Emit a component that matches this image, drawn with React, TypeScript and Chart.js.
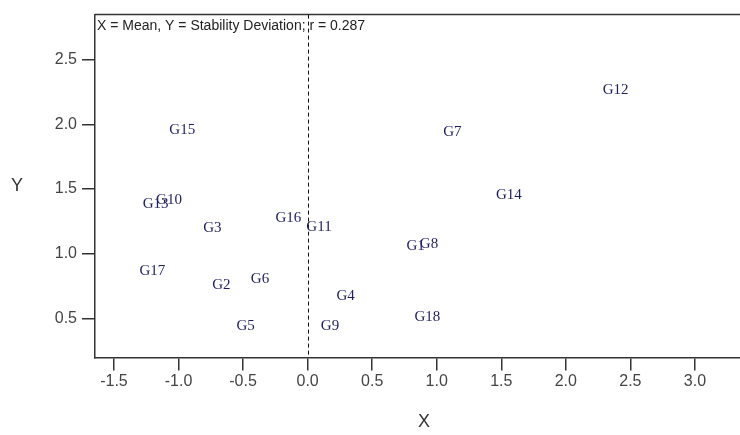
import React, { useEffect, useRef } from "react";
import { Chart, registerables } from "chart.js";

Chart.register(...registerables);

const names = ["G1","G2","G3","G4","G5","G6","G7","G8","G9","G10","G11","G12","G13","G14","G15","G16","G17","G18"];
const meanX = [0.837,-0.668,-0.738,0.294,-0.480,-0.369,1.121,0.940,0.173,-1.074,0.088,2.386,-1.177,1.559,-0.971,-0.149,-1.203,0.927];
const devY = [1.060,0.755,1.195,0.676,0.445,0.807,1.939,1.072,0.441,1.416,1.205,2.264,1.385,1.456,1.952,1.276,0.867,0.508];
const xTicks = [-1.5,-1.0,-0.5,0.0,0.5,1.0,1.5,2.0,2.5,3.0];
const yTicks = [0.5,1.0,1.5,2.0,2.5];
const note = "X = Mean, Y = Stability Deviation; r = 0.287";

const overlay = {
  id: "overlay",
  afterDraw(chart: any) {
    const ctx = chart.ctx;
    const a = chart.chartArea;
    const xs = chart.scales.x;
    ctx.save();
    // top frame line
    ctx.strokeStyle = "#333";
    ctx.lineWidth = 1.5;
    ctx.beginPath();
    ctx.moveTo(a.left, a.top);
    ctx.lineTo(a.right, a.top);
    ctx.stroke();
    // dashed zero line
    const x0 = Math.round(xs.getPixelForValue(0)) + 0.5;
    ctx.lineWidth = 1;
    ctx.strokeStyle = "#111";
    ctx.setLineDash([4, 3]);
    ctx.beginPath();
    ctx.moveTo(x0, a.top);
    ctx.lineTo(x0, a.bottom);
    ctx.stroke();
    ctx.setLineDash([]);
    // note
    ctx.fillStyle = "#222";
    ctx.font = "14px 'Liberation Sans', Arial, sans-serif";
    ctx.textAlign = "left";
    ctx.textBaseline = "alphabetic";
    ctx.fillText(note, a.left + 2, a.top + 15.5);
    // labels
    const meta = chart.getDatasetMeta(0);
    ctx.fillStyle = "#1e1e62";
    ctx.font = "15px 'Liberation Serif', 'Times New Roman', serif";
    ctx.textAlign = "center";
    ctx.textBaseline = "middle";
    meta.data.forEach((el: any, i: number) => {
      ctx.fillText(names[i], el.x, el.y);
    });
    // axis titles
    ctx.fillStyle = "#333";
    ctx.font = "18px 'Liberation Sans', Arial, sans-serif";
    ctx.fillText("Y", 17, 186);
    ctx.fillText("X", 424, 422);
    ctx.restore();
  },
};

export default function App() {
  const ref = useRef<HTMLCanvasElement>(null);
  useEffect(() => {
    if (!ref.current) return;
    const chart = new Chart(ref.current, {
      type: "scatter",
      data: {
        datasets: [
          {
            data: meanX.map((x, i) => ({ x, y: devY[i] })),
            pointRadius: 0,
            pointHoverRadius: 0,
            showLine: false,
          },
        ],
      },
      options: {
        animation: false,
        responsive: false,
        devicePixelRatio: 1,
        layout: { padding: { top: 12, left: 0, right: 0, bottom: 0 } },
        plugins: { legend: { display: false }, tooltip: { enabled: false } },
        scales: {
          x: {
            type: "linear",
            min: -1.647,
            max: 3.349,
            afterBuildTicks: (s: any) => {
              s.ticks = xTicks.map((v) => ({ value: v }));
            },
            afterFit: (s: any) => {
              s.height = 77.5;
            },
            grid: { display: true, drawOnChartArea: false, drawTicks: true, tickLength: 13, color: "#333", lineWidth: 1.5 },
            border: { display: true, color: "#333", width: 1.5 },
            ticks: {
              padding: 1,
              color: "#444",
              font: { family: "'Liberation Sans', Arial, sans-serif", size: 16 },
              callback: (v: any) => Number(v).toFixed(1),
              maxRotation: 0,
              autoSkip: false,
            },
          },
          y: {
            type: "linear",
            min: 0.199,
            max: 2.847,
            afterBuildTicks: (s: any) => {
              s.ticks = yTicks.map((v) => ({ value: v }));
            },
            afterFit: (s: any) => {
              s.width = 95;
            },
            grid: { display: true, drawOnChartArea: false, drawTicks: true, tickLength: 13, color: "#333", lineWidth: 1.5 },
            border: { display: true, color: "#333", width: 1.5 },
            ticks: {
              padding: 5,
              color: "#444",
              font: { family: "'Liberation Sans', Arial, sans-serif", size: 16 },
              callback: (v: any) => Number(v).toFixed(1),
              autoSkip: false,
            },
          },
        },
      },
      plugins: [overlay],
    });
    return () => chart.destroy();
  }, []);
  return (
    <div style={{ position: "absolute", left: 0, top: 0, width: 740, height: 435, background: "#fff" }}>
      <canvas ref={ref} width={740} height={435} style={{ display: "block" }} />
    </div>
  );
}
